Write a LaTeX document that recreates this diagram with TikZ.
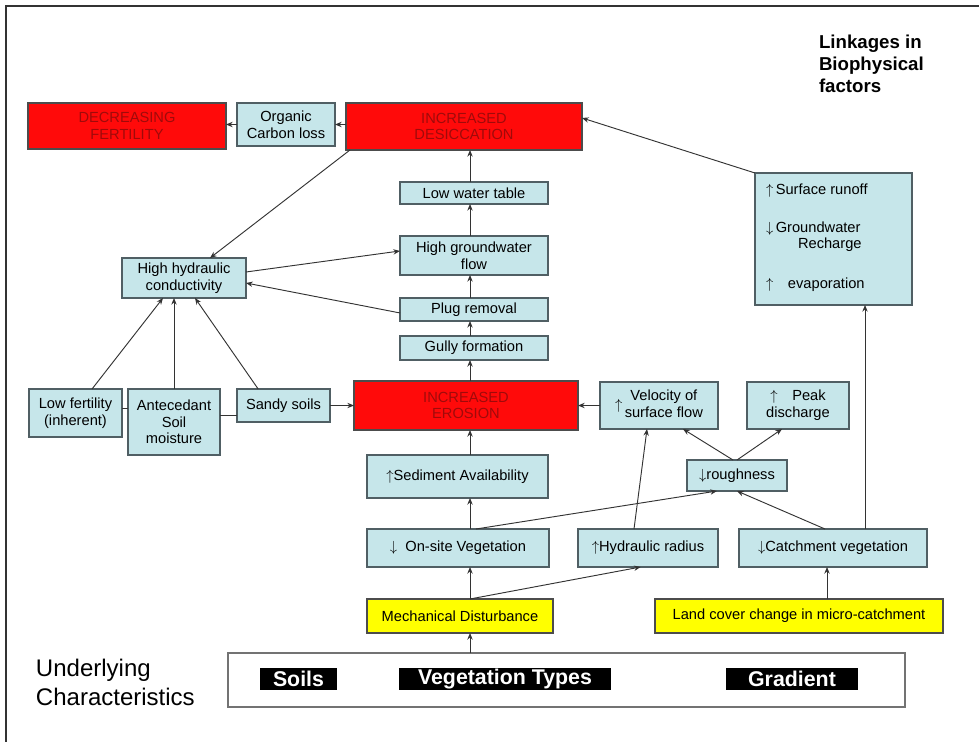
\documentclass[tikz,border=0pt]{standalone}
\usepackage{fontspec}
\setmainfont{Liberation Sans}
\usetikzlibrary{arrows.meta}
\definecolor{lblue}{RGB}{198,230,234}
\definecolor{redfill}{RGB}{255,10,10}
\definecolor{redtext}{RGB}{160,10,10}
\definecolor{ylw}{RGB}{255,255,0}
\definecolor{edgec}{RGB}{80,95,100}
\begin{document}
\begin{tikzpicture}[x=0.75pt,y=-0.75pt,
 every node/.style={inner sep=0pt, outer sep=0pt},
 bbox/.style={draw=edgec, line width=0.9pt, fill=lblue, font=\fontsize{11}{12.5}\selectfont, align=center},
 rbox/.style={draw=black!70, line width=0.9pt, fill=redfill, text=redtext, font=\fontsize{11}{12.5}\selectfont, align=center},
 ybox/.style={draw=black!70, line width=0.9pt, fill=ylw, font=\fontsize{11}{12.5}\selectfont},
 kbox/.style={fill=black, text=white, font=\fontsize{16}{16}\selectfont\bfseries},
 txt/.style={font=\fontsize{11}{12.5}\selectfont, anchor=west},
 arr/.style={draw=black!80, line width=0.7pt, -{Stealth[length=5pt,width=4pt]}},
 lnk/.style={draw=black!80, line width=0.7pt}]
\useasboundingbox (0,0) rectangle (979,742);
\fill[white] (0,0) rectangle (979,742);
\draw[line width=1pt, black!80] (6,760) -- (6,6) -- (990,6);

\coordinate (colx) at (470,0);

% top row
\node[rbox, minimum width=148.5pt, minimum height=34.5pt] (fert) at (127,126) {DECREASING\\FERTILITY};
\node[bbox, minimum width=73.5pt, minimum height=32.25pt] (org) at (286,124.5) {Organic\\Carbon loss};
\node[rbox, minimum width=177pt, minimum height=35.25pt] (desic) at (464,126.5) {INCREASED\\DESICCATION};
\node[anchor=north west, align=left, font=\fontsize{14}{16.5}\selectfont\bfseries] (title) at (819,35) {Linkages in\\Biophysical\\factors};

% central column
\node[bbox, minimum width=111pt, minimum height=16.5pt] (lwt) at (474,193) {Low water table};
\node[bbox, minimum width=111pt, minimum height=29.25pt] (hgf) at (474,255.5) {High groundwater\\flow};
\node[bbox, minimum width=93pt, minimum height=30pt] (hhc) at (184,278) {High hydraulic\\conductivity};
\node[bbox, minimum width=111pt, minimum height=17.25pt] (plug) at (474,309.5) {Plug removal};
\node[bbox, minimum width=111pt, minimum height=18pt] (gully) at (474,348) {Gully formation};

% runoff box
\node[bbox, minimum width=117.75pt, minimum height=99pt] (runoff) at (833.5,239) {};
\node[txt] (rt1) at (766,191) {$\uparrow$\,Surface runoff};
\node[txt] (rt2) at (766,229) {$\downarrow$\,Groundwater};
\node[txt] (rt3) at (798,245) {Recharge};
\node[txt] (rt4) at (766,285) {$\uparrow$\quad evaporation};

% erosion row
\node[bbox, minimum width=69.75pt, minimum height=36pt] (lowf) at (75.5,413) {Low fertility\\(inherent)};
\node[bbox, minimum width=69pt, minimum height=49.5pt] (ante) at (174,422) {Antecedant\\Soil\\moisture};
\node[bbox, minimum width=69.75pt, minimum height=24.75pt] (sandy) at (283.5,405.5) {Sandy soils};
\node[rbox, minimum width=168pt, minimum height=36.75pt] (eros) at (466,405.5) {INCREASED\\EROSION};
\node[bbox, minimum width=88.5pt, minimum height=35.25pt] (velo) at (659,405.5) {$\uparrow$\,\begin{tabular}[c]{@{}c@{}}Velocity of\\surface flow\end{tabular}};
\node[bbox, minimum width=76.5pt, minimum height=35.25pt] (peak) at (798,405.5) {$\uparrow$\quad Peak\\discharge};

\node[bbox, minimum width=135.75pt, minimum height=32.25pt] (sed) at (457.5,476.5) {$\uparrow$Sediment Availability};
\node[bbox, minimum width=75pt, minimum height=23.25pt] (rough) at (737,475.5) {$\downarrow$roughness};

\node[bbox, minimum width=136.5pt, minimum height=28.5pt] (onsite) at (458,548) {$\downarrow$\; On-site Vegetation};
\node[bbox, minimum width=105pt, minimum height=28.5pt] (hrad) at (648,548) {$\uparrow$Hydraulic radius};
\node[bbox, minimum width=141pt, minimum height=28.5pt] (catch) at (833,548) {$\downarrow$Catchment vegetation};

\node[ybox, minimum width=139.5pt, minimum height=25.5pt] (mech) at (460,616) {Mechanical Disturbance};
\node[ybox, minimum width=216pt, minimum height=25.5pt] (land) at (799,616) {Land cover change in micro-catchment};

% underlying
\node[anchor=west, align=left, font=\fontsize{18}{21.75}\selectfont] (undl) at (36,682) {Underlying\\Characteristics};
\node[draw=black!55, line width=1.2pt, fill=white, minimum width=507.75pt, minimum height=40.5pt] (under) at (566.5,680) {};
\node[kbox, minimum width=57.75pt, minimum height=16.5pt] (soils) at (298.5,679) {Soils};
\node[kbox, minimum width=159pt, minimum height=16.5pt] (veg) at (505,679) {Vegetation Types};
\node[kbox, minimum width=99pt, minimum height=16.5pt] (grad) at (792,679) {Gradient};

% connectors
\draw[arr] (desic.west |- org.east) -- (org.east);
\draw[arr] (org.west) -- (org.west -| fert.east);
\draw[arr] ([xshift=3pt]desic.south west) -- ([xshift=19.5pt]hhc.north);
\draw[arr] (lwt.north -| colx) -- (desic.south -| colx);
\draw[arr] (hgf.north -| colx) -- (lwt.south -| colx);
\draw[arr] ([yshift=4.5pt]hhc.east) -- ([yshift=3.4pt]hgf.west);
\draw[arr] ([yshift=-2.6pt]plug.west) -- ([yshift=-3.75pt]hhc.east);
\draw[arr] (plug.north -| colx) -- (hgf.south -| colx);
\draw[arr] (gully.north -| colx) -- (plug.south -| colx);
\draw[arr] (eros.north -| colx) -- (gully.south -| colx);

\draw[arr] ([xshift=12.4pt]lowf.north) -- ([xshift=-15.75pt]hhc.south);
\draw[arr] (ante.north) -- (ante.north |- hhc.south);
\draw[arr] ([xshift=-19pt]sandy.north) -- ([xshift=8.25pt]hhc.south);
\draw[lnk] ([yshift=3.75pt]lowf.east) -- ([yshift=3.75pt]lowf.east -| ante.west);
\draw[lnk] ([yshift=-7.1pt]sandy.west) -- ([yshift=-7.1pt]sandy.west -| ante.east);
\draw[arr] (sandy.east) -- (sandy.east -| eros.west);
\draw[arr] (velo.west) -- (velo.west -| eros.east);

\draw[arr] (sed.north -| colx) -- (eros.south -| colx);
\draw[arr] (onsite.north -| colx) -- (sed.south -| colx);
\draw[arr] (mech.north -| colx) -- (onsite.south -| colx);
\draw[arr] (under.north -| colx) -- (mech.south -| colx);
\draw[arr] (mech.north -| colx) -- ([xshift=-5.5pt]hrad.south);
\draw[arr] ([xshift=-10.5pt]hrad.north) -- ([xshift=-9pt]velo.south);
\draw[arr] ([xshift=13.5pt]onsite.north) -- ([xshift=-15pt]rough.south);
\draw[arr] ([xshift=-6pt]catch.north) -- (rough.south);
\draw[arr] ([xshift=24pt]catch.north) -- ([xshift=24pt]catch.north |- runoff.south);
\draw[arr] ([xshift=21pt]land.north) -- ([xshift=21pt]land.north |- catch.south);
\draw[arr] ([xshift=-3pt]rough.north) -- ([xshift=18pt]velo.south);
\draw[arr] (rough.north) -- ([xshift=-12pt]peak.south);
\draw[arr] (runoff.north west) -- ([yshift=6.4pt]desic.east);
\end{tikzpicture}
\end{document}
